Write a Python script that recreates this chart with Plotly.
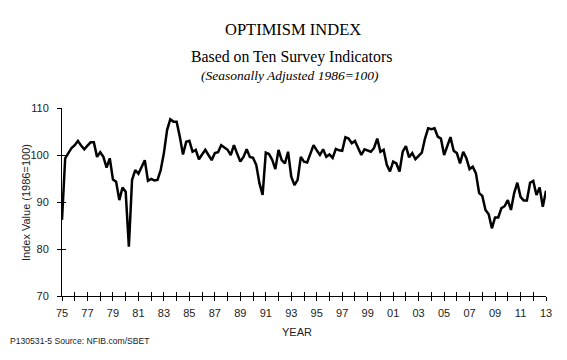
import plotly.graph_objects as go

# Quarterly optimism index, 1975Q1 .. 2013Q1
start_year = 1975
values = [
    86.2, 99.3, 100.4, 101.5, 102.1, 103.0, 102.0, 101.2,   # 75-76
    102.0, 102.7, 102.7, 99.6, 100.6, 99.6, 97.3, 99.3,     # 77-78
    94.8, 94.3, 90.4, 93.1, 92.2, 80.5, 94.7, 96.8,         # 79-80
    96.0, 97.5, 98.9, 94.5, 94.9, 94.6, 94.7, 96.8,         # 81-82
    100.4, 105.3, 107.6, 107.1, 107.1, 103.9, 100.1, 102.8, # 83-84
    103.0, 100.7, 101.1, 99.1, 100.0, 101.1, 100.0, 98.9,   # 85-86
    100.4, 100.6, 102.1, 101.5, 101.1, 100.0, 102.1, 100.3, # 87-88
    98.6, 99.6, 101.2, 99.6, 99.4, 97.9, 94.0, 91.5,        # 89-90
    100.5, 100.2, 99.0, 97.0, 101.1, 98.9, 98.2, 100.7,     # 91-92
    95.4, 93.6, 94.7, 99.6, 98.6, 98.4, 100.5, 102.1,       # 93-94
    101.0, 100.0, 101.2, 99.6, 100.1, 99.4, 101.3, 101.0,   # 95-96
    100.9, 103.8, 103.5, 102.5, 103.0, 101.5, 100.0, 101.2, # 97-98
    101.0, 100.7, 101.5, 103.5, 100.7, 101.1, 97.9, 96.5,   # 99-00
    98.6, 98.2, 96.5, 100.7, 101.9, 99.5, 100.4, 99.1,      # 01-02
    99.8, 100.5, 103.5, 105.7, 105.5, 105.7, 103.9, 103.5,  # 03-04
    100.0, 102.0, 103.8, 100.9, 100.4, 98.2, 100.7, 99.3,   # 05-06
    97.0, 97.5, 96.1, 91.9, 91.3, 88.3, 87.4, 84.4,         # 07-08
    86.7, 86.7, 88.7, 89.1, 90.4, 88.3, 91.9, 94.1,         # 09-10
    91.1, 90.3, 90.3, 94.1, 94.5, 91.5, 93.1, 89.0,         # 11-12
    92.4,                                                   # 13
]
quarters = [start_year + i / 4 for i in range(len(values))]

tick_years = list(range(1975, 2014))
tick_text = [f"{y % 100:02d}" if (y - 1975) % 2 == 0 else "" for y in tick_years]
y_ticks = [70, 80, 90, 100, 110]

title = "OPTIMISM INDEX"
subtitle = "Based on Ten Survey Indicators"
subtitle2 = "(Seasonally Adjusted 1986=100)"
y_title = "Index Value (1986=100)"
x_title = "YEAR"
source = "P130531-5 Source: NFIB.com/SBET"

fig = go.Figure()
fig.add_trace(go.Scatter(x=quarters, y=values, mode="lines",
                         line=dict(color="black", width=2.5),
                         showlegend=False, hoverinfo="x+y"))
# same series on the overlay axes (transparent) so that the second tick set is drawn
fig.add_trace(go.Scatter(x=quarters, y=values, mode="lines", xaxis="x2", yaxis="y2",
                         line=dict(color="rgba(0,0,0,0)", width=1),
                         showlegend=False, hoverinfo="skip"))

sans = "Liberation Sans, Arial"
axis_font = dict(family=sans, size=11, color="#222")
xr = [1975, 2013]
yr = [70, 110]

fig.update_layout(
    width=567, height=360,
    paper_bgcolor="white", plot_bgcolor="white",
    margin=dict(l=62, r=21, t=108, b=64),
    xaxis=dict(range=xr, tickmode="array", tickvals=tick_years, showticklabels=False,
               ticks="outside", ticklen=4, tickwidth=1, tickcolor="black",
               showline=True, linecolor="black", linewidth=1,
               showgrid=False, zeroline=False),
    yaxis=dict(range=yr, tickmode="array", tickvals=y_ticks,
               ticks="outside", ticklen=4, tickwidth=1, tickcolor="black",
               showline=True, linecolor="black", linewidth=1,
               showgrid=False, zeroline=False, tickfont=axis_font,
               ticklabelstandoff=6),
    xaxis2=dict(range=xr, overlaying="x", anchor="y", side="bottom",
                tickmode="array", tickvals=tick_years, ticktext=tick_text,
                tickfont=axis_font, ticklabelstandoff=9,
                ticks="inside", ticklen=4, tickwidth=1, tickcolor="black",
                showline=False, showgrid=False, zeroline=False),
    yaxis2=dict(range=yr, overlaying="y", anchor="x", side="left",
                tickmode="array", tickvals=y_ticks, showticklabels=False,
                ticks="inside", ticklen=4, tickwidth=1, tickcolor="black",
                showline=False, showgrid=False, zeroline=False),
    font=dict(family=sans, color="black"),
)

# plot-area pixel box, used to place text given in figure pixels
pl, pr, pt, pb = 62, 546, 108, 296
serif = "Liberation Serif, Times New Roman"
texts = [
    (title, 293, 30, dict(family=serif, size=16.5), "center", 0),
    (subtitle, 291, 57, dict(family=serif, size=15.8), "center", 0),
    ("<i>" + subtitle2 + "</i>", 290, 75, dict(family=serif, size=13.5), "center", 0),
    (x_title, 297, 332, dict(family=sans, size=11, color="#222"), "center", 0),
    (source, 8, 341, dict(family=sans, size=8.6, color="#222"), "left", 0),
    (y_title, 26, 203, dict(family=sans, size=11, color="#222"), "center", -90),
]
for txt, px, py, f, xa, ang in texts:
    fig.add_annotation(
        text=txt, xref="paper", yref="paper",
        x=(px - pl) / (pr - pl), y=(pb - py) / (pb - pt),
        xanchor=xa, yanchor="middle", textangle=ang,
        showarrow=False, font=f,
    )

fig.write_html("out.html", config={"displayModeBar": False},
               post_script="document.body.style.margin='0';")
